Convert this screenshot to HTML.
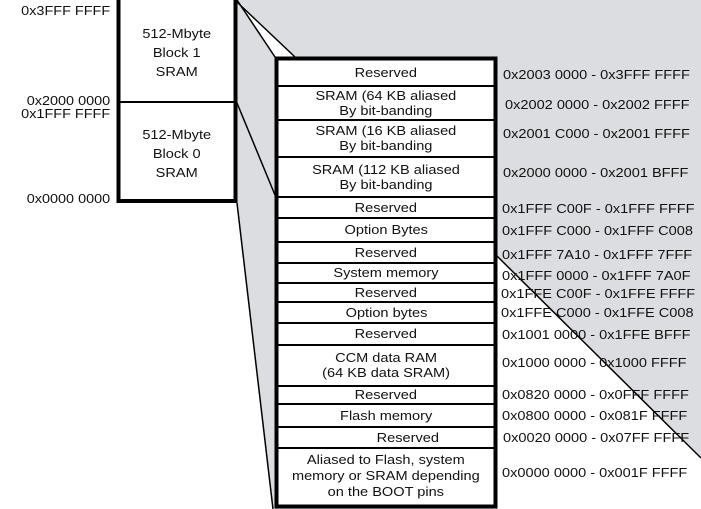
<!DOCTYPE html>
<html><head><style>
body{margin:0;width:701px;height:509px;position:relative;background:#fff;font-family:"Liberation Sans",Arial,sans-serif;font-size:13px;color:#111;overflow:hidden}
.a{position:absolute;white-space:nowrap}
.r{position:absolute;left:278px;width:216px;text-align:center;display:flex;align-items:center;justify-content:center;line-height:15px;border-bottom:2px solid #000;box-sizing:border-box}
.r span,.a span{display:inline-block;transform:scaleX(1.12);transform-origin:center}
.ad{position:absolute;left:503px;white-space:nowrap;line-height:15px;transform:scaleX(1.12);transform-origin:left}
.l{position:absolute;right:591px;white-space:nowrap;transform:scaleX(1.11);transform-origin:right}
</style></head><body>
<svg width="701" height="509" style="position:absolute;left:0;top:0">
<polygon points="237,0 701,0 701,458 497,256 497,509 273,509 237,203" fill="#dcdde0"/>
<polygon points="237,0 275,57 295,57" fill="#fff"/>
<g stroke="#000" stroke-width="1.5" fill="none">
<line x1="237" y1="0" x2="275" y2="57"/>
<line x1="237" y1="2" x2="295" y2="57"/>
<line x1="237" y1="103" x2="275" y2="195"/>
<line x1="237" y1="203" x2="273" y2="509"/>
<line x1="497" y1="256" x2="701" y2="458"/>
</g>
<rect x="118.5" y="-2" width="117" height="203" fill="#fff" stroke="#000" stroke-width="4"/>
<line x1="118" y1="102" x2="236" y2="102" stroke="#000" stroke-width="2"/>
<rect x="276.5" y="58.5" width="219" height="448" fill="#fff" stroke="#000" stroke-width="4"/>
</svg>
<div class="a" style="left:118px;top:24px;width:118px;text-align:center;line-height:19px"><span>512-Mbyte<br>Block 1<br>SRAM</span></div>
<div class="a" style="left:118px;top:125px;width:118px;text-align:center;line-height:19px"><span>512-Mbyte<br>Block 0<br>SRAM</span></div>
<div class="l" style="top:3px">0x3FFF FFFF</div>
<div class="l" style="top:93px">0x2000 0000</div>
<div class="l" style="top:106px">0x1FFF FFFF</div>
<div class="l" style="top:191px">0x0000 0000</div>

<div class="r" style="top:60px;height:27px"><span>Reserved</span></div>
<div class="r" style="top:86px;height:35px"><span>SRAM (64 KB aliased<br>By bit-banding</span></div>
<div class="r" style="top:120px;height:38px"><span>SRAM (16 KB aliased<br>By bit-banding</span></div>
<div class="r" style="top:157px;height:41px"><span>SRAM (112 KB aliased<br>By bit-banding</span></div>
<div class="r" style="top:197px;height:22px"><span>Reserved</span></div>
<div class="r" style="top:218px;height:25px"><span>Option Bytes</span></div>
<div class="r" style="top:242px;height:22px"><span>Reserved</span></div>
<div class="r" style="top:263px;height:21px"><span>System memory</span></div>
<div class="r" style="top:283px;height:20px"><span>Reserved</span></div>
<div class="r" style="top:302px;height:22px"><span>Option bytes</span></div>
<div class="r" style="top:323px;height:23px"><span>Reserved</span></div>
<div class="r" style="top:345px;height:42px"><span>CCM data RAM<br>(64 KB data SRAM)</span></div>
<div class="r" style="top:386px;height:19px"><span>Reserved</span></div>
<div class="r" style="top:404px;height:24px"><span>Flash memory</span></div>
<div class="r" style="top:427px;height:22px;padding-left:44px"><span>Reserved</span></div>
<div class="r" style="top:448px;height:56px;border-bottom:none;line-height:16px"><span>Aliased to Flash, system<br>memory or SRAM depending<br>on the BOOT pins</span></div>

<div class="ad" style="top:67px">0x2003 0000 - 0x3FFF FFFF</div>
<div class="ad" style="top:97px;left:505px">0x2002 0000 - 0x2002 FFFF</div>
<div class="ad" style="top:126px">0x2001 C000 - 0x2001 FFFF</div>
<div class="ad" style="top:165px">0x2000 0000 - 0x2001 BFFF</div>
<div class="ad" style="top:201px;left:502px">0x1FFF C00F - 0x1FFF FFFF</div>
<div class="ad" style="top:223px;left:502px">0x1FFF C000 - 0x1FFF C008</div>
<div class="ad" style="top:247px;left:502px">0x1FFF 7A10 - 0x1FFF 7FFF</div>
<div class="ad" style="top:268px;left:502px">0x1FFF 0000 - 0x1FFF 7A0F</div>
<div class="ad" style="top:286px;left:501px">0x1FFE C00F - 0x1FFE FFFF</div>
<div class="ad" style="top:305px;left:501px">0x1FFE C000 - 0x1FFE C008</div>
<div class="ad" style="top:327px;left:502px">0x1001 0000 - 0x1FFE BFFF</div>
<div class="ad" style="top:355px;left:502px">0x1000 0000 - 0x1000 FFFF</div>
<div class="ad" style="top:387px;left:502px">0x0820 0000 - 0x0FFF FFFF</div>
<div class="ad" style="top:408px;left:502px">0x0800 0000 - 0x081F FFFF</div>
<div class="ad" style="top:430px;left:503px">0x0020 0000 - 0x07FF FFFF</div>
<div class="ad" style="top:465px;left:502px">0x0000 0000 - 0x001F FFFF</div>
</body></html>
